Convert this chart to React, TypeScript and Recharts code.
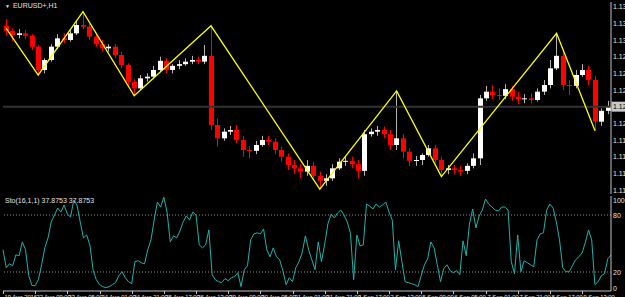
import React from 'react'
import { ComposedChart, Bar, Line, XAxis, YAxis, ReferenceLine } from 'recharts'

// EURUSD+ H1, drawn as 4-hour candles (index 0 = 19 Aug 13:00)
const opens = [
  1.1317, 1.1311, 1.1306, 1.1308, 1.1305, 1.1292, 1.1264, 1.1276, 1.1292, 1.1302,
  1.1300, 1.1308, 1.1318, 1.1316, 1.1304, 1.1295, 1.1290, 1.1292, 1.1282, 1.1270,
  1.1250, 1.1242, 1.1254, 1.1256, 1.1264, 1.1275, 1.1264, 1.1269, 1.1271, 1.1274,
  1.1276, 1.1274, 1.1281, 1.1198, 1.1182, 1.1190, 1.1192, 1.1180, 1.1168, 1.1167,
  1.1174, 1.1180, 1.1178, 1.1168, 1.1160, 1.1150, 1.1146, 1.1142, 1.1149, 1.1137,
  1.1131, 1.1134, 1.1146, 1.1154, 1.1155, 1.1151, 1.1143, 1.1187, 1.1190, 1.1192,
  1.1187, 1.1174, 1.1182, 1.1166, 1.1155, 1.1156, 1.1162, 1.1170, 1.1156, 1.1144,
  1.1146, 1.1144, 1.1143, 1.1149, 1.1158, 1.1230, 1.1238, 1.1234, 1.1233, 1.1241,
  1.1232, 1.1229, 1.1230, 1.1228, 1.1238, 1.1246, 1.1266, 1.1281, 1.1246, 1.1245,
  1.1258, 1.1264, 1.1252, 1.1202, 1.1215,
]
const highs = [
  1.1325, 1.1314, 1.1313, 1.1312, 1.1307, 1.1294, 1.1278, 1.1295, 1.1307, 1.1308,
  1.1312, 1.1324, 1.1334, 1.1319, 1.1307, 1.1300, 1.1295, 1.1295, 1.1286, 1.1272,
  1.1253, 1.1258, 1.1260, 1.1269, 1.1280, 1.1278, 1.1271, 1.1276, 1.1278, 1.1281,
  1.1280, 1.1294, 1.1317, 1.1206, 1.1194, 1.1197, 1.1198, 1.1185, 1.1173, 1.1179,
  1.1185, 1.1185, 1.1182, 1.1172, 1.1164, 1.1156, 1.1151, 1.1156, 1.1154, 1.1142,
  1.1139, 1.1151, 1.1158, 1.1160, 1.1160, 1.1156, 1.1192, 1.1194, 1.1197, 1.1196,
  1.1192, 1.1239, 1.1187, 1.1170, 1.1161, 1.1164, 1.1174, 1.1174, 1.1160, 1.1150,
  1.1150, 1.1149, 1.1152, 1.1164, 1.1234, 1.1245, 1.1246, 1.1242, 1.1247, 1.1245,
  1.1238, 1.1235, 1.1236, 1.1242, 1.1252, 1.1276, 1.1308, 1.1288, 1.1252, 1.1264,
  1.1271, 1.1269, 1.1257, 1.1218, 1.1227,
]
const lows = [
  1.1305, 1.1299, 1.1302, 1.1301, 1.1288, 1.1258, 1.1260, 1.1274, 1.1289, 1.1296,
  1.1298, 1.1306, 1.1313, 1.1300, 1.1292, 1.1286, 1.1286, 1.1278, 1.1266, 1.1246,
  1.1233, 1.1240, 1.1250, 1.1253, 1.1262, 1.1260, 1.1260, 1.1265, 1.1269, 1.1271,
  1.1271, 1.1271, 1.1192, 1.1172, 1.1179, 1.1186, 1.1176, 1.1160, 1.1158, 1.1163,
  1.1172, 1.1174, 1.1163, 1.1154, 1.1144, 1.1139, 1.1134, 1.1137, 1.1132, 1.1121,
  1.1125, 1.1131, 1.1144, 1.1149, 1.1146, 1.1134, 1.1137, 1.1184, 1.1185, 1.1182,
  1.1168, 1.1168, 1.1158, 1.1149, 1.1149, 1.1150, 1.1160, 1.1152, 1.1136, 1.1139,
  1.1139, 1.1137, 1.1139, 1.1146, 1.1150, 1.1227, 1.1229, 1.1228, 1.1229, 1.1227,
  1.1223, 1.1224, 1.1224, 1.1226, 1.1234, 1.1242, 1.1264, 1.1240, 1.1234, 1.1242,
  1.1256, 1.1246, 1.1191, 1.1197, 1.1211,
]
const closes = [
  1.1311, 1.1306, 1.1308, 1.1305, 1.1292, 1.1264, 1.1276, 1.1292, 1.1302, 1.1300,
  1.1308, 1.1318, 1.1316, 1.1304, 1.1295, 1.1290, 1.1292, 1.1282, 1.1270, 1.1250,
  1.1242, 1.1254, 1.1256, 1.1264, 1.1275, 1.1264, 1.1269, 1.1271, 1.1274, 1.1276,
  1.1274, 1.1281, 1.1198, 1.1182, 1.1190, 1.1192, 1.1180, 1.1168, 1.1167, 1.1174,
  1.1180, 1.1178, 1.1168, 1.1160, 1.1150, 1.1146, 1.1142, 1.1149, 1.1137, 1.1131,
  1.1134, 1.1146, 1.1154, 1.1155, 1.1151, 1.1143, 1.1187, 1.1190, 1.1192, 1.1187,
  1.1174, 1.1182, 1.1166, 1.1155, 1.1156, 1.1162, 1.1170, 1.1156, 1.1144, 1.1146,
  1.1144, 1.1143, 1.1149, 1.1158, 1.1230, 1.1238, 1.1234, 1.1233, 1.1241, 1.1232,
  1.1229, 1.1230, 1.1228, 1.1238, 1.1246, 1.1266, 1.1281, 1.1246, 1.1245, 1.1258,
  1.1264, 1.1252, 1.1202, 1.1215, 1.1220,
]

// zigzag pivots (candle index, price)
const zigzagIdx = [0, 5, 12, 20, 32, 49, 61, 68, 86, 92]
const zigzagPrice = [1.1314, 1.1258, 1.1334, 1.1233, 1.1317, 1.1121, 1.1239, 1.1136, 1.1308, 1.1191]

const priceTicks = [1.134, 1.132, 1.13, 1.128, 1.126, 1.124, 1.122, 1.12, 1.118, 1.116, 1.114, 1.112]
const lastPrice = 1.122

// Stochastic(16,1,1), one value per 2 hours
const stoch = [
  43.4, 24.5, 28.7, 26.6, 38.1, 37.1, 51.7, 43.4, 16.1, 5.7,
  5.7, 11.9, 27.6, 45.4, 55.9, 72.7, 80, 87.3, 83.1, 90.5,
  81, 77.9, 95.7, 90.5, 72.7, 55.9, 59, 48.6, 22.4, 11.9,
  6.7, 4.6, 3.6, 4.6, 6.7, 8.8, 16.1, 20.3, 14, 9.8,
  7.7, 30.8, 31.8, 29.7, 28.7, 43.4, 53.8, 74.8, 93.6, 88.4,
  98.8, 83.1, 51.7, 58, 55.9, 63.2, 72.7, 79, 74.8, 83.1,
  80, 48.6, 45.4, 48.6, 64.3, 17.2, 11.9, 9.8, 8.8, 13,
  10.9, 14, 15.1, 19.3, 4.6, 22.4, 26.6, 53.8, 60.1, 61.2,
  60.1, 65.3, 43.4, 36, 45.4, 36, 32.9, 21.4, 6.7, 14,
  9.8, 24.5, 30.8, 40.2, 58, 43.4, 32.9, 22.4, 51.7, 30.8,
  49.6, 70.6, 81, 76.9, 82.1, 85.2, 80, 72.7, 61.2, 11.9,
  59, 47.5, 48.6, 91.5, 89.4, 86.3, 91.5, 88.4, 90.5, 93.6,
  83.1, 74.8, 22.4, 52.8, 30.8, 9.8, 8.8, 7.7, 6.7, 4.6,
  16.1, 27.6, 33.9, 51.7, 45.4, 27.6, 9.8, 23.5, 27.6, 21.4,
  19.3, 21.4, 17.2, 52.8, 37.1, 70.6, 86.3, 66.4, 79, 85.2,
  96.8, 91.5, 88.4, 85.2, 84.2, 88.4, 88.4, 85.2, 30.8, 18.2,
  59, 20.3, 31.8, 29.7, 27.6, 25.5, 53.8, 60.1, 61.2, 85.2,
  91.5, 87.3, 72.7, 53.8, 24.5, 20.3, 20.3, 26.6, 32.9, 36,
  40.2, 50.7, 64.3, 53.8, 6.7, 9.8, 16.1, 18.2, 33.9, 37.9,
]
const stochTicks = [0, 20, 80, 100]

// one label every 10 stochastic points (20 hours)
const timeLabels = [
  '19 Aug 2016', '22 Aug 09:00', '23 Aug 05:00', '24 Aug 01:00', '24 Aug 21:00',
  '25 Aug 17:00', '26 Aug 13:00', '29 Aug 09:00', '30 Aug 05:00', '31 Aug 01:00',
  '31 Aug 21:00', '1 Sep 17:00', '2 Sep 13:00', '5 Sep 09:00', '6 Sep 05:00',
  '7 Sep 01:00', '7 Sep 21:00', '8 Sep 17:00', '9 Sep 13:00',
]

const FONT = '"Liberation Sans", Arial, sans-serif'
const FRAME = '#c4c4c4'
const TXT = '#e4e4e4'
const UP = '#ffffff'
const DOWN = '#ff0000'

const candles = opens.map((o, i) => {
  const z = zigzagIdx.indexOf(i)
  return {
    i,
    range: [lows[i], highs[i]],
    o,
    h: highs[i],
    l: lows[i],
    c: closes[i],
    zz: z >= 0 ? zigzagPrice[z] : null,
  }
})

const stochData = stoch.map((k, j) => ({ j, k }))

function Candle(props: any) {
  const { x, y, width, height, payload } = props
  if (height == null || !payload) return null
  const top = Math.min(y, y + height)
  const h = Math.abs(height)
  const { o, c } = payload
  const toY = (v: number) => top + ((payload.h - v) / (payload.h - payload.l)) * h
  const cx = Math.round(x + width / 2)
  const up = c >= o
  const bt = toY(Math.max(o, c))
  const bb = toY(Math.min(o, c))
  return (
    <g>
      <line x1={cx + 0.5} x2={cx + 0.5} y1={top} y2={top + h} stroke={up ? '#b4b4b4' : DOWN} strokeWidth={1} />
      <rect x={cx - 2} y={bt} width={5} height={Math.max(1, bb - bt)} fill={up ? UP : DOWN} />
    </g>
  )
}

function PriceTick(props: any) {
  const { y, payload } = props
  const v = payload.value
  if (Math.abs(v - lastPrice) < 1e-7) {
    return (
      <g>
        <rect x={611.5} y={y - 5} width={14} height={10} fill="#c8c8c8" />
        <text x={613} y={y + 2.5} fontSize={7} fontFamily={FONT} fill="#000">{v.toFixed(5)}</text>
      </g>
    )
  }
  return (
    <text x={613} y={y + 2.5} fontSize={7} fontFamily={FONT} fill={TXT}>{v.toFixed(5)}</text>
  )
}

function StochTick(props: any) {
  const { y, payload } = props
  const v = payload.value
  const shift = v === 100 ? 6.5 : v === 0 ? 0 : 2.5
  return (
    <text x={613} y={y + shift} fontSize={7} fontFamily={FONT} fill={TXT}>{v}</text>
  )
}

function TimeTick(props: any) {
  const { x, payload } = props
  const j = payload.value
  if (j % 10 !== 0) return <g />
  const tx = Math.round(x) + 0.5
  return (
    <g>
      <line x1={tx} x2={tx} y1={97} y2={100} stroke={FRAME} />
      <text x={tx + 1} y={105} fontSize={5.8} fontFamily={FONT} fill={TXT}>{timeLabels[j / 10]}</text>
    </g>
  )
}

export default function App() {
  return (
    <div style={{ position: 'fixed', left: 0, top: 0, width: 625, height: 297, background: '#000', overflow: 'hidden' }}>
      <div style={{ position: 'absolute', left: 0, top: 0 }}>
        <ComposedChart width={625} height={196} data={candles} barCategoryGap={0}
          margin={{ top: 2, right: 0, bottom: 2, left: 3 }}>
          <XAxis dataKey="i" hide />
          <XAxis xAxisId="t" dataKey="i" orientation="top" height={0} tick={false} tickLine={false}
            axisLine={{ stroke: FRAME }} />
          <YAxis yAxisId="p" orientation="right" width={14} domain={[1.11152, 1.13456]}
            ticks={priceTicks} interval={0} allowDataOverflow tick={<PriceTick />} tickLine={false}
            axisLine={{ stroke: FRAME }} />
          <YAxis yAxisId="f" orientation="left" width={0} domain={[1.11152, 1.13456]}
            allowDataOverflow tick={false} tickLine={false} axisLine={{ stroke: FRAME }} />
          <ReferenceLine yAxisId="p" y={lastPrice} stroke="#333333" strokeWidth={2} />
          <Bar yAxisId="p" dataKey="range" shape={<Candle />} isAnimationActive={false} />
          <Line yAxisId="p" dataKey="zz" type="linear" stroke="#ffff00" strokeWidth={1.3}
            dot={false} activeDot={false} connectNulls isAnimationActive={false} />
        </ComposedChart>
      </div>

      <div style={{ position: 'absolute', left: 0, top: 194 }}>
        <ComposedChart width={625} height={103} data={stochData}
          margin={{ top: 2, right: 0, bottom: 0, left: 3 }}>
          <XAxis dataKey="j" height={6} interval={0} tick={<TimeTick />} tickLine={false}
            axisLine={{ stroke: FRAME }} />
          <XAxis xAxisId="t" dataKey="j" orientation="top" height={0} tick={false} tickLine={false}
            axisLine={{ stroke: FRAME }} />
          <YAxis yAxisId="s" orientation="right" width={14} domain={[0, 100]} ticks={stochTicks}
            interval={0} tick={<StochTick />} tickLine={false} axisLine={{ stroke: FRAME }} />
          <YAxis yAxisId="f" orientation="left" width={0} domain={[0, 100]} tick={false}
            tickLine={false} axisLine={{ stroke: FRAME }} />
          <ReferenceLine yAxisId="s" y={80} stroke="#8c8c8c" strokeDasharray="1 2" />
          <ReferenceLine yAxisId="s" y={20} stroke="#8c8c8c" strokeDasharray="1 2" />
          <Line yAxisId="s" dataKey="k" type="linear" stroke="#20b2aa" strokeWidth={1}
            dot={false} activeDot={false} isAnimationActive={false} />
        </ComposedChart>
      </div>

      <div style={{ position: 'absolute', left: 5, top: 2, fontFamily: FONT, fontSize: 7, color: TXT, lineHeight: '8px', whiteSpace: 'nowrap' }}>
        <span style={{ fontSize: 5, marginRight: 3 }}>▼</span>EURUSD+,H1
      </div>
      <div style={{ position: 'absolute', left: 5, top: 197, fontFamily: FONT, fontSize: 7, color: TXT, lineHeight: '8px', whiteSpace: 'nowrap' }}>
        Sto(16,1,1) 37.8753 37.8753
      </div>
    </div>
  )
}
